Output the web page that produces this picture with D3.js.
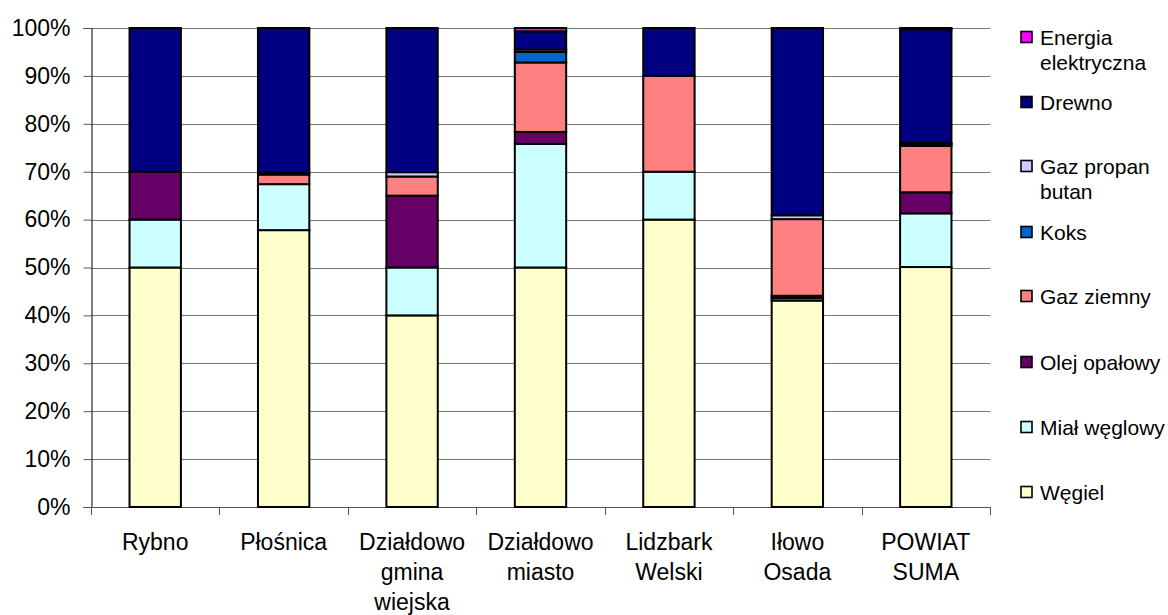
<!DOCTYPE html>
<html>
<head>
<meta charset="utf-8">
<script src="https://cdn.jsdelivr.net/npm/d3@7"></script>
<style>
  body { margin: 0; background: #fff; }
  text { font-family: "Liberation Sans", Arial, sans-serif; fill: #000; }
</style>
</head>
<body>
<svg id="chart"></svg>
<script>
// Categories (gminy) and the share of each heating fuel, in %.
const categories = ["Rybno", "Płośnica", "Działdowo gmina wiejska", "Działdowo miasto",
    "Lidzbark Welski", "Iłowo Osada", "POWIAT SUMA"];

const wegiel    = [50,   57.8, 40,   50,   60, 43.1, 50.1];
const mial      = [10,   9.6,  10,   25.8, 10, 0.5,  11.2];
const olej      = [10,   0,    15,   2.5,  0,  0.5,  4.4];
const gazZiemny = [0,    2.0,  4,    14.5, 20, 16,   9.7];
const koks      = [0,    0,    0,    2.2,  0,  0,    0.3];
const propan    = [0,    0.4,  0.9,  0.5,  0,  0.8,  0.3];
const drewno    = [30,   30.2, 30.1, 3.8,  10, 39.1, 23.7];
const energia   = [0,    0,    0,    0.7,  0,  0,    0.3];

const seriesNames = ["Węgiel", "Miał węglowy", "Olej opałowy", "Gaz ziemny", "Koks",
    "Gaz propan butan", "Drewno", "Energia elektryczna"];
const seriesValues = [wegiel, mial, olej, gazZiemny, koks, propan, drewno, energia];
const seriesColors = ["#ffffcc", "#ccffff", "#660066", "#ff8080", "#0066cc",
    "#ccccff", "#000080", "#ff00ff"];

const yTicks = [0, 0.1, 0.2, 0.3, 0.4, 0.5, 0.6, 0.7, 0.8, 0.9, 1];

const width = 1168;
const height = 615;
const margin = {top: 28, right: 178, bottom: 108, left: 91};

const svg = d3.select("#chart")
    .attr("width", width)
    .attr("height", height)
    .attr("viewBox", [0, 0, width, height]);

// Build a table for d3.stack
const table = categories.map((c, i) => {
    const row = {category: c};
    seriesNames.forEach((s, j) => row[s] = seriesValues[j][i]);
    return row;
});

const stacked = d3.stack()
    .keys(seriesNames)
    .offset(d3.stackOffsetExpand)(table);

const x = d3.scaleBand()
    .domain(categories)
    .range([margin.left, width - margin.right]);

const y = d3.scaleLinear()
    .domain([0, 1])
    .range([height - margin.bottom, margin.top]);

const color = d3.scaleOrdinal(seriesNames, seriesColors);

// Gridlines
svg.append("g")
    .attr("stroke", "#777")
    .attr("stroke-width", 1)
    .selectAll("line")
    .data(yTicks.slice(1))
    .join("line")
        .attr("x1", margin.left)
        .attr("x2", width - margin.right)
        .attr("y1", d => Math.round(y(d)) + 0.5)
        .attr("y2", d => Math.round(y(d)) + 0.5);

// Y axis
const yAxis = svg.append("g")
    .attr("transform", `translate(${margin.left + 0.5},0)`)
    .call(d3.axisLeft(y).tickValues(yTicks).tickFormat(d3.format(".0%")).tickSize(8).tickPadding(13));
yAxis.select(".domain").attr("stroke", "#000");
yAxis.selectAll(".tick line").attr("stroke", "#555");
yAxis.selectAll(".tick text")
    .attr("font-size", 23)
    .attr("font-family", "Liberation Sans, Arial, sans-serif");

// X axis: baseline and ticks at band boundaries
const x0 = y(0);
svg.append("line")
    .attr("x1", margin.left).attr("x2", width - margin.right)
    .attr("y1", Math.round(x0) + 0.5).attr("y2", Math.round(x0) + 0.5)
    .attr("stroke", "#555");

const bounds = categories.map(c => x(c)).concat([x.range()[1]]);
svg.append("g")
    .attr("stroke", "#555")
    .selectAll("line")
    .data(bounds)
    .join("line")
        .attr("x1", d => Math.round(d) + 0.5)
        .attr("x2", d => Math.round(d) + 0.5)
        .attr("y1", x0)
        .attr("y2", x0 + 8);

// Category labels (wrapped on spaces)
svg.append("g")
    .selectAll("text")
    .data(categories)
    .join("text")
        .attr("x", d => x(d) + x.bandwidth() / 2)
        .attr("y", x0 + 43)
        .attr("text-anchor", "middle")
        .attr("font-size", 23)
        .each(function(d) {
            const t = d3.select(this);
            d.split(" ").forEach((w, i) => {
                t.append("tspan")
                    .attr("x", x(d) + x.bandwidth() / 2)
                    .attr("dy", i === 0 ? 0 : 30)
                    .text(w);
            });
        });

// Bars
const barW = x.bandwidth() * 0.4;
svg.append("g")
    .selectAll("g")
    .data(stacked)
    .join("g")
        .attr("fill", d => color(d.key))
    .selectAll("rect")
    .data(d => d.filter(s => s[1] - s[0] > 0))
    .join("rect")
        .attr("x", d => x(d.data.category) + (x.bandwidth() - barW) / 2)
        .attr("y", d => y(d[1]))
        .attr("width", barW)
        .attr("height", d => y(d[0]) - y(d[1]))
        .attr("stroke", "#000")
        .attr("stroke-width", 2);

// Legend (top entry is the last series)
const legendY = [37, 102, 166, 232, 296, 362, 427, 492];
const legendItems = seriesNames.slice().reverse();
const legend = svg.append("g")
    .selectAll("g")
    .data(legendItems)
    .join("g")
        .attr("transform", (d, i) => `translate(1021,${legendY[i]})`);

legend.append("rect")
    .attr("x", 0)
    .attr("y", -5.5)
    .attr("width", 11)
    .attr("height", 11)
    .attr("fill", d => color(d))
    .attr("stroke", "#000")
    .attr("stroke-width", 1.6);

const legendLines = {
    "Energia elektryczna": ["Energia", "elektryczna"],
    "Gaz propan butan": ["Gaz propan", "butan"]
};
legend.append("text")
    .attr("x", 19)
    .attr("y", 8)
    .attr("font-size", 21)
    .each(function(d) {
        const t = d3.select(this);
        (legendLines[d] || [d]).forEach((w, i) => {
            t.append("tspan")
                .attr("x", 19)
                .attr("dy", i === 0 ? 0 : 25)
                .text(w);
        });
    });
</script>
</body>
</html>
